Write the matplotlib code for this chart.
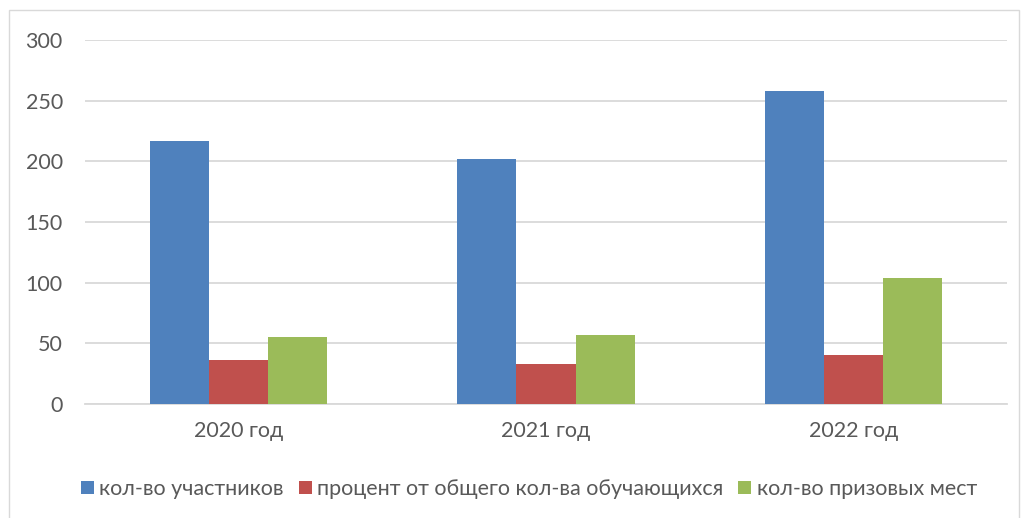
import numpy as np
import matplotlib.pyplot as plt
from matplotlib.patches import Rectangle

plt.rcParams['font.family'] = ['Lato', 'DejaVu Sans']

years = ['2020 год', '2021 год', '2022 год']
participants = [217, 202, 258]
percent = [36, 33, 40]
prizes = [55, 57, 104]

labels = ['кол-во участников', 'процент от общего кол-ва обучающихся', 'кол-во призовых мест']
colors = ['#4f81bd', '#c0504d', '#9bbb59']

fig = plt.figure(figsize=(10.27, 5.18), dpi=100)
ax = fig.add_axes([85 / 1027, 1 - 404 / 518, 922 / 1027, 364 / 518])

x = np.arange(len(years))
w = 0.192
for i, (vals, lab, c) in enumerate(zip([participants, percent, prizes], labels, colors)):
    ax.bar(x + (i - 1) * w, vals, w, color=c, label=lab, zorder=3)

ax.set_xlim(-0.5, 2.5)
ax.set_ylim(0, 300)
ax.set_yticks(range(0, 301, 50))
ax.set_xticks(x)
ax.set_xticklabels(years)
ax.yaxis.grid(True, color='#d9d9d9', linewidth=1.3, zorder=0)
for s in ['top', 'right', 'left']:
    ax.spines[s].set_visible(False)
ax.spines['bottom'].set_color('#d9d9d9')
ax.spines['bottom'].set_linewidth(1.3)
ax.tick_params(axis='both', length=0, labelsize=15.5, colors='#595959')
ax.tick_params(axis='y', pad=16)
ax.tick_params(axis='x', pad=12)

fig.legend(loc='center', bbox_to_anchor=(0.515, 1 - 489 / 518), ncol=3, frameon=False,
           fontsize=15.5, labelcolor='#595959', handlelength=0.6, handleheight=0.6,
           handletextpad=0.25, columnspacing=0.7)

fig.patches.append(Rectangle((9 / 1027, -0.1), 1010 / 1027, 1.1 - 10 / 518,
                             transform=fig.transFigure, fill=False,
                             edgecolor='#d9d9d9', linewidth=1))

fig.savefig('out.png', dpi=100)
